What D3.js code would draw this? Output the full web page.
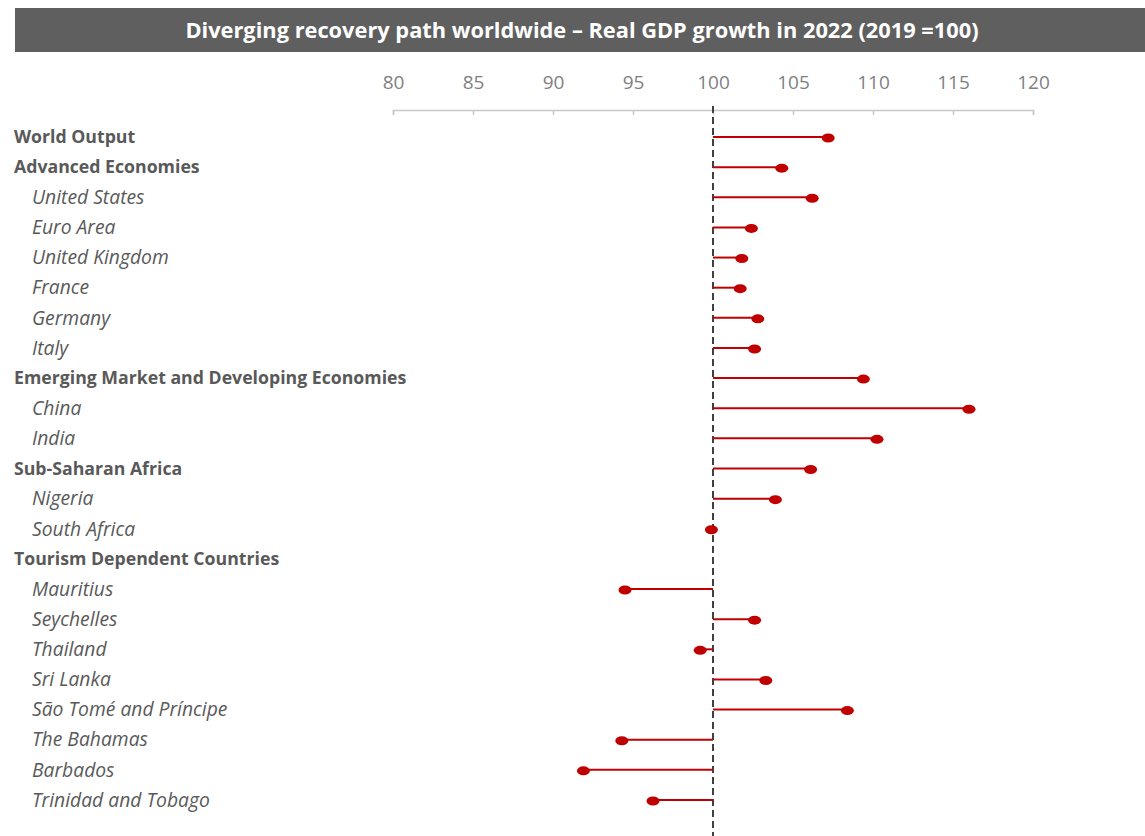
<!DOCTYPE html>
<html lang="en">
  <head>
    <meta charset="utf-8">
    <title>recovery</title>
    <style>
      body { margin: 0; background: #fff; }
      text { font-family: "Open Sans", "Noto Sans", sans-serif; }
    </style>
  </head>
  <body>

<script src="https://d3js.org/d3.v7.min.js"></script>

<script>

//data
var regions = ["World Output", "Advanced Economies", "United States", "Euro Area", "United Kingdom",
  "France", "Germany", "Italy", "Emerging Market and Developing Economies", "China", "India",
  "Sub-Saharan Africa", "Nigeria", "South Africa", "Tourism Dependent Countries", "Mauritius",
  "Seychelles", "Thailand", "Sri Lanka", "São Tomé and Príncipe", "The Bahamas", "Barbados",
  "Trinidad and Tobago"];

var isGroup = [true, true, false, false, false, false, false, false, true, false, false,
  true, false, false, true, false, false, false, false, false, false, false, false];

var gdp2022 = [107.2, 104.3, 106.2, 102.4, 101.8, 101.7, 102.8, 102.6, 109.4, 116.0, 110.25,
  106.1, 103.9, 99.9, null, 94.5, 102.6, 99.2, 103.3, 108.4, 94.3, 91.9, 96.25];

var ticks = [80, 85, 90, 95, 100, 105, 110, 115, 120];

var W = 1145, H = 836;

var svg = d3.select("body").append("svg")
  .attr("width", W)
  .attr("height", H);

//title bar
svg.append("rect")
  .attr("x", 15).attr("y", 8)
  .attr("width", W - 15).attr("height", 44)
  .attr("fill", "#5f5f5f");

svg.append("text")
  .attr("x", 582).attr("y", 30)
  .attr("dy", "0.35em")
  .attr("text-anchor", "middle")
  .attr("fill", "#fff")
  .attr("font-size", 21.8)
  .attr("font-weight", "bold")
  .text("Diverging recovery path worldwide – Real GDP growth in 2022 (2019 =100)");

//scales
var x = d3.scaleLinear().domain([80, 120]).range([393, 1033]);
var y = d3.scalePoint().domain(regions).range([137, 800]);

//top axis
var axisY = 110;
var axis = svg.append("g").attr("transform", "translate(0," + axisY + ")")
  .call(d3.axisBottom(x).tickValues(ticks).tickSize(5).tickSizeOuter(5));
axis.select(".domain").attr("stroke", "#c8c8c8").attr("stroke-width", 1.5);
axis.selectAll(".tick line").attr("stroke", "#c8c8c8").attr("stroke-width", 1.5);
axis.selectAll(".tick text")
  .attr("y", -28)
  .attr("dy", "0.35em")
  .attr("fill", "#7f7f7f")
  .attr("font-size", 19)
  .attr("font-family", "'Open Sans', sans-serif");

//labels
svg.selectAll("text.lab")
  .data(regions)
  .enter().append("text")
  .attr("class", "lab")
  .attr("x", function(d, i) { return isGroup[i] ? 14 : 32; })
  .attr("y", function(d) { return y(d); })
  .attr("dy", "0.35em")
  .attr("fill", "#595959")
  .attr("font-size", function(d, i) { return isGroup[i] ? 17.7 : 19.3; })
  .attr("font-weight", function(d, i) { return isGroup[i] ? "bold" : "normal"; })
  .attr("font-style", function(d, i) { return isGroup[i] ? "normal" : "italic"; })
  .text(function(d) { return d; });

//dashed reference line
svg.append("line")
  .attr("x1", x(100)).attr("x2", x(100))
  .attr("y1", axisY - 4).attr("y2", H)
  .attr("stroke", "#404040")
  .attr("stroke-width", 2)
  .attr("stroke-dasharray", "7,4");

//lollipops
var rows = regions.map(function(r, i) { return { name: r, v: gdp2022[i] }; })
  .filter(function(d) { return d.v !== null; });

svg.selectAll("line.stem")
  .data(rows)
  .enter().append("line")
  .attr("class", "stem")
  .attr("x1", x(100))
  .attr("x2", function(d) { return x(d.v); })
  .attr("y1", function(d) { return y(d.name); })
  .attr("y2", function(d) { return y(d.name); })
  .attr("stroke", "#c00000")
  .attr("stroke-width", 2);

svg.selectAll("ellipse.dot")
  .data(rows)
  .enter().append("ellipse")
  .attr("class", "dot")
  .attr("cx", function(d) { return x(d.v); })
  .attr("cy", function(d) { return y(d.name) + 1; })
  .attr("rx", 6.5)
  .attr("ry", 4.5)
  .attr("fill", "#c00000");

</script>

  </body>
</html>
